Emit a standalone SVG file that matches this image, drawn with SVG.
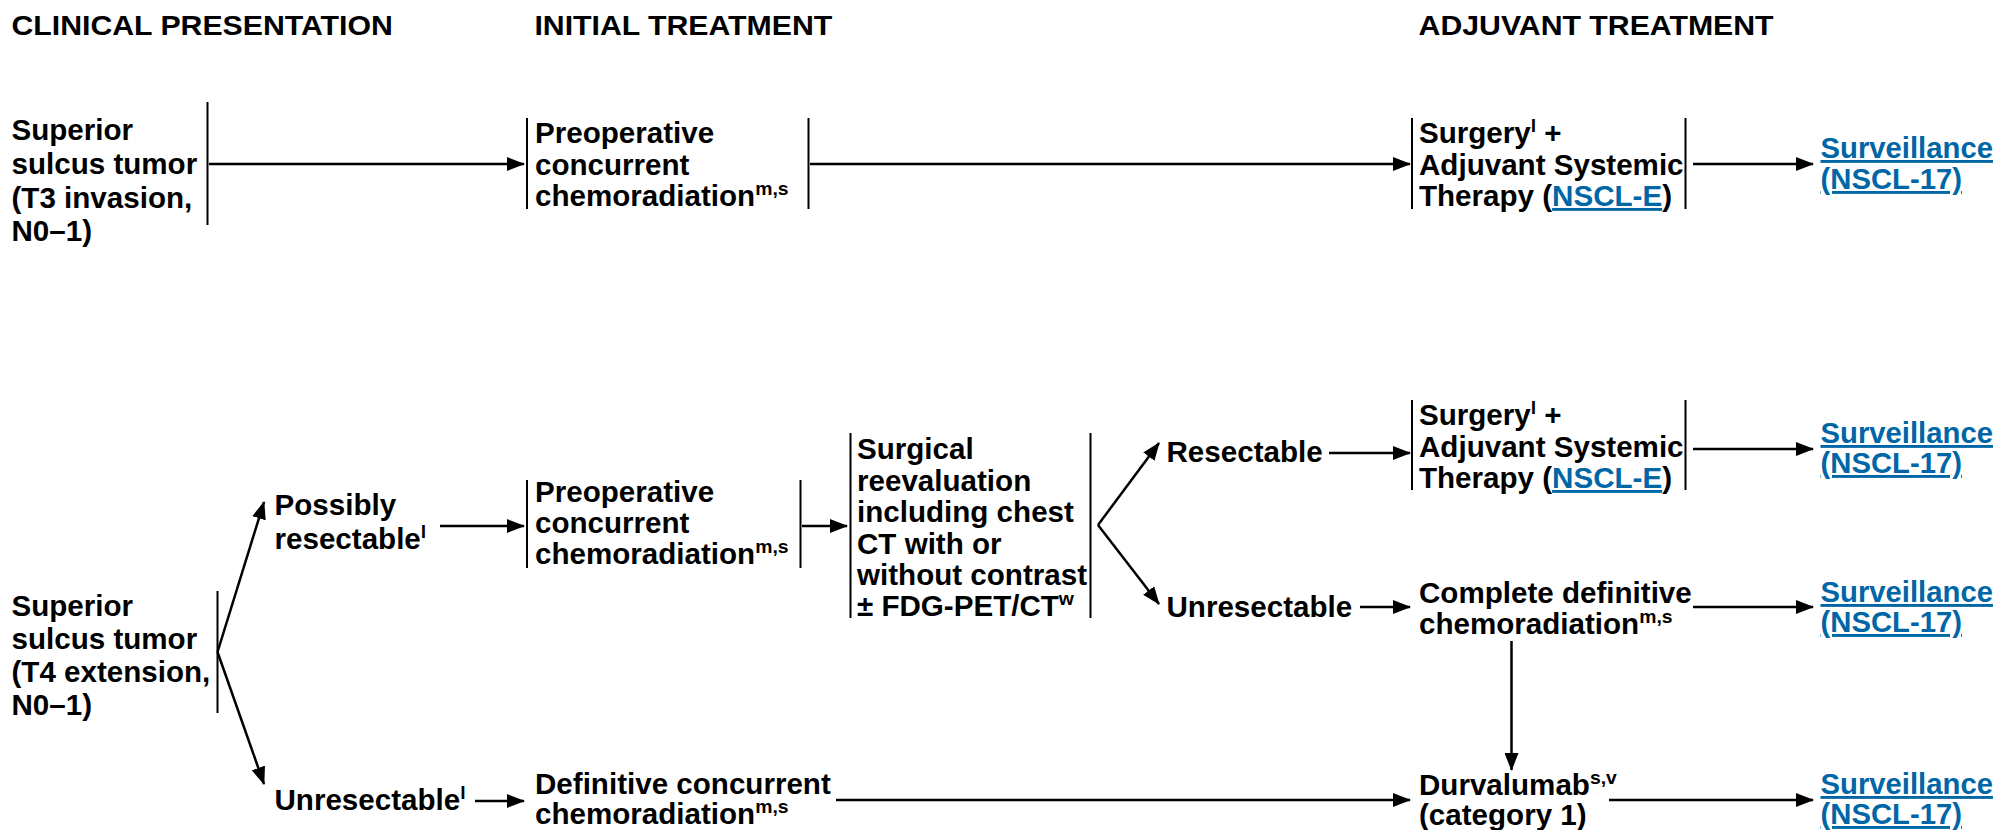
<svg xmlns="http://www.w3.org/2000/svg" width="1999" height="830" viewBox="0 0 1999 830">
<style>
.t{font-family:"Liberation Sans",Arial,Helvetica,sans-serif;font-weight:bold;font-size:29px;fill:#000}
.h{font-size:27.5px}
.sup{font-size:19px}
.lnk{fill:#0066A6;text-decoration:underline}
.bar{stroke:#000;stroke-width:2;fill:none}
.arr{stroke:#000;stroke-width:2.5;fill:none;marker-end:url(#ah)}
</style>
<defs>
<marker id="ah" markerUnits="userSpaceOnUse" markerWidth="18" markerHeight="14" refX="17" refY="7" orient="auto">
<path d="M0,0 L18,7 L0,14 z" fill="#000"/>
</marker>
</defs>
<rect width="1999" height="830" fill="#fff"/>

<g id="headers">
<text class="t h" transform="translate(11.5 0) scale(1.1 1)"><tspan x="0" y="35">CLINICAL PRESENTATION</tspan></text>
<text class="t h" transform="translate(534.4 0) scale(1.1 1)"><tspan x="0" y="35">INITIAL TREATMENT</tspan></text>
<text class="t h" transform="translate(1418.6 0) scale(1.1 1)"><tspan x="0" y="35">ADJUVANT TREATMENT</tspan></text>
</g>

<g id="connectors">
<line class="arr" x1="209" y1="164" x2="524" y2="164"/>
<line class="arr" x1="810" y1="164" x2="1410" y2="164"/>
<line class="arr" x1="1693" y1="164" x2="1813" y2="164"/>
<line class="arr" x1="217.5" y1="652" x2="264" y2="502"/>
<line class="arr" x1="217.5" y1="652" x2="264" y2="784"/>
<line class="arr" x1="440" y1="526" x2="524" y2="526"/>
<line class="arr" x1="802" y1="526" x2="847" y2="526"/>
<line class="arr" x1="1098" y1="525" x2="1159" y2="443"/>
<line class="arr" x1="1098" y1="525" x2="1159" y2="604"/>
<line class="arr" x1="1329" y1="453" x2="1410" y2="453"/>
<line class="arr" x1="1360" y1="607" x2="1410" y2="607"/>
<line class="arr" x1="1693" y1="449" x2="1813" y2="449"/>
<line class="arr" x1="1693" y1="607" x2="1813" y2="607"/>
<line class="arr" x1="1511.5" y1="641" x2="1511.5" y2="770"/>
<line class="arr" x1="1609" y1="800" x2="1813" y2="800"/>
<line class="arr" x1="475" y1="801" x2="524" y2="801"/>
<line class="arr" x1="836" y1="800" x2="1410" y2="800"/>
</g>

<g id="n-t3">
<line class="bar" x1="207.5" y1="102" x2="207.5" y2="225"/>
<text class="t" transform="translate(11.5 0) scale(1.02 1)"><tspan x="0" y="140">Superior</tspan><tspan x="0" y="174">sulcus tumor</tspan><tspan x="0" y="208">(T3 invasion,</tspan><tspan x="0" y="241">N0–1)</tspan></text>
</g>

<g id="n-preop1">
<line class="bar" x1="527" y1="118" x2="527" y2="209"/>
<line class="bar" x1="808.5" y1="118" x2="808.5" y2="209"/>
<text class="t" transform="translate(535 0) scale(1.02 1)"><tspan x="0" y="143">Preoperative</tspan><tspan x="0" y="175">concurrent</tspan><tspan x="0" y="206">chemoradiation<tspan class="sup" dy="-11">m,s</tspan></tspan></text>
</g>

<g id="n-surgery1">
<line class="bar" x1="1412" y1="118" x2="1412" y2="209"/>
<line class="bar" x1="1685.5" y1="118" x2="1685.5" y2="209"/>
<text class="t" transform="translate(1419 0) scale(1.02 1)"><tspan x="0" y="143">Surgery<tspan class="sup" dy="-11">l</tspan><tspan dy="11"> +</tspan></tspan><tspan x="0" y="175">Adjuvant Systemic</tspan><tspan x="0" y="206">Therapy (<tspan class="lnk">NSCL-E</tspan>)</tspan></text>
</g>

<g id="n-surv1">
<text class="t lnk" transform="translate(1820.5 0) scale(1.01 1)"><tspan x="0" y="158">Surveillance</tspan><tspan x="0" y="189">(NSCL-17)</tspan></text>
</g>

<g id="n-t4">
<line class="bar" x1="217.5" y1="591" x2="217.5" y2="713"/>
<text class="t" transform="translate(11.5 0) scale(1.02 1)"><tspan x="0" y="616">Superior</tspan><tspan x="0" y="649">sulcus tumor</tspan><tspan x="0" y="682">(T4 extension,</tspan><tspan x="0" y="715">N0–1)</tspan></text>
</g>

<g id="n-possibly">
<text class="t" transform="translate(274.5 0) scale(1.02 1)"><tspan x="0" y="515">Possibly</tspan><tspan x="0" y="549">resectable<tspan class="sup" dy="-11">l</tspan></tspan></text>
</g>

<g id="n-preop2">
<line class="bar" x1="527" y1="480" x2="527" y2="568"/>
<line class="bar" x1="800.5" y1="480" x2="800.5" y2="568"/>
<text class="t" transform="translate(535 0) scale(1.02 1)"><tspan x="0" y="502">Preoperative</tspan><tspan x="0" y="533">concurrent</tspan><tspan x="0" y="564">chemoradiation<tspan class="sup" dy="-11">m,s</tspan></tspan></text>
</g>

<g id="n-surgical">
<line class="bar" x1="850.5" y1="433" x2="850.5" y2="618"/>
<line class="bar" x1="1090.5" y1="433" x2="1090.5" y2="618"/>
<text class="t" transform="translate(857 0) scale(1.02 1)"><tspan x="0" y="459">Surgical</tspan><tspan x="0" y="491">reevaluation</tspan><tspan x="0" y="522">including chest</tspan><tspan x="0" y="554">CT with or</tspan><tspan x="0" y="585">without contrast</tspan><tspan x="0" y="616">± FDG-PET/CT<tspan class="sup" dy="-11">w</tspan></tspan></text>
</g>

<g id="n-resectable">
<text class="t" transform="translate(1166.5 0) scale(1.02 1)"><tspan x="0" y="462">Resectable</tspan></text>
</g>

<g id="n-unresectable2">
<text class="t" transform="translate(1166.5 0) scale(1.02 1)"><tspan x="0" y="617">Unresectable</tspan></text>
</g>

<g id="n-surgery2">
<line class="bar" x1="1412" y1="400" x2="1412" y2="490"/>
<line class="bar" x1="1685.5" y1="400" x2="1685.5" y2="490"/>
<text class="t" transform="translate(1419 0) scale(1.02 1)"><tspan x="0" y="425">Surgery<tspan class="sup" dy="-11">l</tspan><tspan dy="11"> +</tspan></tspan><tspan x="0" y="457">Adjuvant Systemic</tspan><tspan x="0" y="488">Therapy (<tspan class="lnk">NSCL-E</tspan>)</tspan></text>
</g>

<g id="n-surv2">
<text class="t lnk" transform="translate(1820.5 0) scale(1.01 1)"><tspan x="0" y="443">Surveillance</tspan><tspan x="0" y="473">(NSCL-17)</tspan></text>
</g>

<g id="n-complete">
<text class="t" transform="translate(1419 0) scale(1.02 1)"><tspan x="0" y="603">Complete definitive</tspan><tspan x="0" y="634">chemoradiation<tspan class="sup" dy="-11">m,s</tspan></tspan></text>
</g>

<g id="n-surv3">
<text class="t lnk" transform="translate(1820.5 0) scale(1.01 1)"><tspan x="0" y="602">Surveillance</tspan><tspan x="0" y="632">(NSCL-17)</tspan></text>
</g>

<g id="n-unresectable1">
<text class="t" transform="translate(274.5 0) scale(1.02 1)"><tspan x="0" y="810">Unresectable<tspan class="sup" dy="-11">l</tspan></tspan></text>
</g>

<g id="n-definitive">
<text class="t" transform="translate(535 0) scale(1.02 1)"><tspan x="0" y="794">Definitive concurrent</tspan><tspan x="0" y="824">chemoradiation<tspan class="sup" dy="-11">m,s</tspan></tspan></text>
</g>

<g id="n-durvalumab">
<text class="t" transform="translate(1419 0) scale(1.02 1)"><tspan x="0" y="795">Durvalumab<tspan class="sup" dy="-11">s,v</tspan></tspan><tspan x="0" y="825">(category 1)</tspan></text>
</g>

<g id="n-surv4">
<text class="t lnk" transform="translate(1820.5 0) scale(1.01 1)"><tspan x="0" y="794">Surveillance</tspan><tspan x="0" y="824">(NSCL-17)</tspan></text>
</g>
</svg>
